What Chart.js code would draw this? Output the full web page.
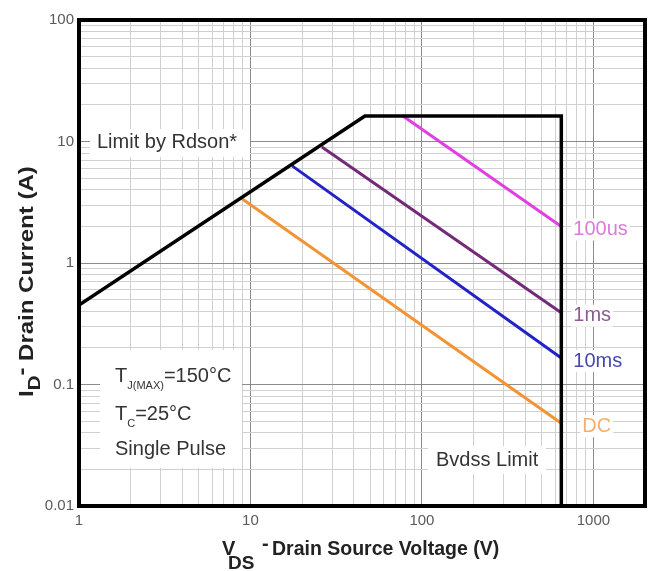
<!DOCTYPE html>
<html>
<head>
<meta charset="utf-8">
<script src="https://cdn.jsdelivr.net/npm/chart.js@4.4.1/dist/chart.umd.min.js"></script>
<style>
  html, body { margin: 0; padding: 0; background: #fff; }
  #soa { display: block; }
</style>
</head>
<body>
<canvas id="soa" width="653" height="571"></canvas>
<script>
// Safe operating area: boundary made of the Rdson slope, the current
// ceiling and the Bvdss wall
const limitV = [1, 46.5, 650, 650];
const limitI = [0.45, 16.2, 16.2, 0.01];

// Pulse-width lines, each one from the boundary down to Bvdss
const pulseNames = ['100us', '1ms', '10ms', 'DC'];
const pulseV = [[77.5, 650], [26.1, 650], [17.5, 650], [8.8, 650]];
const pulseI = [[16.2, 2.0], [9.0, 0.39], [6.3, 0.165], [3.43, 0.048]];

// Axis ranges, decades for the log grid, labelled ticks
const xRange = [1, 2000];
const yRange = [0.01, 100];
const xDecades = [1, 10, 100, 1000];
const yDecades = [0.01, 0.1, 1, 10, 100];
const xTickLabels = [1, 10, 100, 1000];
const yTickLabels = [0.01, 0.1, 1, 10, 100];

// Styling
const FONT = '"Liberation Sans", Arial, sans-serif';
const lineColors = ['#e23fe2', '#742a78', '#2222c8', '#f39333'];
const textColors = ['#d97cd9', '#8a5c92', '#4646b4', '#f2b070'];
const labelDx = [12, 12, 12, 21];

// 1..9 x decade, kept inside the axis range
function logGrid(decades, range) {
  const out = [];
  decades.forEach(d => {
    for (let k = 1; k <= 9; k++) {
      const v = parseFloat((d * k).toPrecision(6));
      if (v >= range[0] && v <= range[1] && !out.includes(v)) out.push(v);
    }
  });
  if (!out.includes(range[1])) out.push(range[1]);
  return out;
}

function isDecade(v) {
  const l = Math.log10(v);
  return Math.abs(l - Math.round(l)) < 1e-6;
}

// text with optional horizontal stretch / rotation
function putText(ctx, txt, x, y, size, color, o) {
  o = o || {};
  ctx.save();
  ctx.translate(x, y);
  if (o.rot) ctx.rotate(o.rot);
  ctx.scale(o.sx || 1, 1);
  ctx.font = (o.bold ? 'bold ' : '') + size + 'px ' + FONT;
  ctx.fillStyle = color;
  ctx.textAlign = 'left';
  ctx.textBaseline = o.base || 'alphabetic';
  ctx.fillText(txt, o.dx || 0, o.dy || 0);
  const w = ctx.measureText(txt).width * (o.sx || 1);
  ctx.restore();
  return w;
}

function textWidth(ctx, txt, size, bold) {
  ctx.save();
  ctx.font = (bold ? 'bold ' : '') + size + 'px ' + FONT;
  const w = ctx.measureText(txt).width;
  ctx.restore();
  return w;
}

// white patches behind the notes, then the notes themselves
const notesPlugin = {
  id: 'notes',
  beforeDatasetsDraw(chart) {
    const ctx = chart.ctx;
    const xs = chart.scales.x, ys = chart.scales.y;
    ctx.save();
    ctx.fillStyle = '#fff';
    ctx.fillRect(90, 129, 160, 28);
    ctx.fillRect(100, 350, 142, 118);
    ctx.fillRect(428, 446, 118, 28);
    ctx.restore();

    putText(ctx, 'Limit by Rdson*', 97, 148, 20, '#333');
    putText(ctx, 'Bvdss Limit', 436, 466, 20, '#333');

    // Tj / Tc / single pulse block
    let x = 115;
    x += putText(ctx, 'T', x, 382, 20, '#333');
    x += putText(ctx, 'J(MAX)', x, 389, 11, '#333');
    putText(ctx, '=150°C', x, 382, 20, '#333');
    x = 115;
    x += putText(ctx, 'T', x, 420, 20, '#333');
    x += putText(ctx, 'C', x, 427, 11, '#333');
    putText(ctx, '=25°C', x, 420, 20, '#333');
    putText(ctx, 'Single Pulse', 115, 455, 20, '#333');

    // pulse-width labels at the Bvdss end of each line
    pulseNames.forEach((n, k) => {
      const px = xs.getPixelForValue(pulseV[k][1]) + labelDx[k];
      const py = ys.getPixelForValue(pulseI[k][1]) + 3;
      const w = textWidth(ctx, n, 20);
      ctx.save();
      ctx.fillStyle = '#fff';
      ctx.fillRect(px - 2, py - 11, w + 4, 22);
      ctx.restore();
      putText(ctx, n, px, py, 20, textColors[k], { base: 'middle' });
    });
  },
  afterDraw(chart) {
    const ctx = chart.ctx;
    const a = chart.chartArea;
    // heavy frame round the plot
    ctx.save();
    ctx.strokeStyle = '#000';
    ctx.lineWidth = 4;
    ctx.strokeRect(a.left, a.top, a.right - a.left, a.bottom - a.top);
    ctx.restore();

    // x title: V with DS subscript
    let x = 222;
    putText(ctx, 'V', x, 555, 20, '#222', { bold: true });
    putText(ctx, 'DS', 228, 569, 19, '#222', { bold: true });
    putText(ctx, '-', 262, 550, 20, '#222', { bold: true });
    putText(ctx, 'Drain Source Voltage (V)', 272, 555, 19.5, '#222', { bold: true });

    // y title: I with D subscript, rotated
    ctx.save();
    ctx.translate(33, 397);
    ctx.rotate(-Math.PI / 2);
    let t = 0;
    t += putText(ctx, 'I', t, 0, 20, '#222', { bold: true, sx: 1.2 });
    t += putText(ctx, 'D', t, 7, 17, '#222', { bold: true, sx: 1.2 });
    t += putText(ctx, '-', t, -5, 20, '#222', { bold: true, sx: 1.2 });
    putText(ctx, ' Drain Current (A)', t, 0, 20, '#222', { bold: true, sx: 1.2 });
    ctx.restore();
  }
};

const datasets = [{
  label: 'limit',
  data: limitV.map((v, i) => ({ x: v, y: limitI[i] })),
  borderColor: '#000',
  borderWidth: 3.5,
  borderJoinStyle: 'miter',
  showLine: true,
  pointRadius: 0
}].concat(pulseNames.map((n, k) => ({
  label: n,
  data: pulseV[k].map((v, i) => ({ x: v, y: pulseI[k][i] })),
  borderColor: lineColors[k],
  borderWidth: 3,
  showLine: true,
  pointRadius: 0
})));

function gridColor(c) {
  return isDecade(c.tick.value) ? '#8c8c8c' : '#d0d0d0';
}

new Chart(document.getElementById('soa'), {
  type: 'scatter',
  data: { datasets: datasets },
  options: {
    responsive: false,
    animation: false,
    devicePixelRatio: 1,
    layout: { padding: { top: 20, right: 8, left: 0, bottom: 0 } },
    plugins: { legend: { display: false }, tooltip: { enabled: false } },
    scales: {
      x: {
        type: 'logarithmic',
        position: 'bottom',
        min: xRange[0],
        max: xRange[1],
        afterBuildTicks: s => { s.ticks = logGrid(xDecades, xRange).map(v => ({ value: v })); },
        afterFit: s => { s.height = 65; },
        border: { display: false },
        grid: { color: gridColor, lineWidth: 1, drawTicks: false },
        ticks: {
          autoSkip: false, maxRotation: 0, padding: 6,
          color: '#5a5a5a', font: { size: 15, family: FONT },
          callback: v => xTickLabels.includes(v) ? String(v) : ''
        }
      },
      y: {
        type: 'logarithmic',
        position: 'left',
        min: yRange[0],
        max: yRange[1],
        afterBuildTicks: s => { s.ticks = logGrid(yDecades, yRange).map(v => ({ value: v })); },
        afterFit: s => { s.width = 79; },
        border: { display: false },
        grid: { color: gridColor, lineWidth: 1, drawTicks: false },
        ticks: {
          autoSkip: false, padding: 5,
          color: '#5a5a5a', font: { size: 15, family: FONT },
          callback: v => yTickLabels.includes(v) ? String(v) : ''
        }
      }
    }
  },
  plugins: [notesPlugin]
});
</script>
</body>
</html>
